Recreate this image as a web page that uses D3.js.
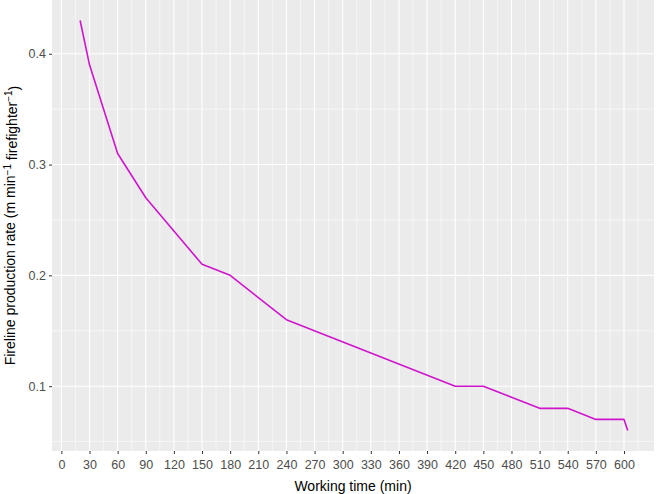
<!DOCTYPE html>
<html>
<head>
<meta charset="utf-8">
<script src="https://cdn.jsdelivr.net/npm/d3@7"></script>
<style>
  html, body { margin: 0; padding: 0; background: #fff; }
  svg { display: block; font-family: "Liberation Sans", Arial, Helvetica, sans-serif; }
</style>
</head>
<body>
<svg id="chart" width="656" height="494"></svg>
<script>
// Data
const workingTime = [20, 30, 60, 90, 150, 180, 240, 420, 450, 510, 540, 570, 600, 604];
const productionRate = [0.43, 0.39, 0.31, 0.27, 0.21, 0.20, 0.16, 0.10, 0.10, 0.08, 0.08, 0.07, 0.07, 0.06];
const xTicks = [0, 30, 60, 90, 120, 150, 180, 210, 240, 270, 300, 330, 360, 390, 420, 450, 480, 510, 540, 570, 600];
const yTicks = [0.1, 0.2, 0.3, 0.4];
const xMinor = [15, 45, 75, 105, 135, 165, 195, 225, 255, 285, 315, 345, 375, 405, 435, 465, 495, 525, 555, 585, 615];
const yMinor = [0.05, 0.15, 0.25, 0.35];

const svg = d3.select("#chart");
const panel = { left: 52, right: 654, top: 0, bottom: 451 };

const x = d3.scaleLinear().domain([-10, 632]).range([panel.left, panel.right]);
const y = d3.scaleLinear().domain([0.0415, 0.4485]).range([panel.bottom, panel.top]);

// panel background
svg.append("rect")
  .attr("x", panel.left).attr("y", panel.top)
  .attr("width", panel.right - panel.left).attr("height", panel.bottom - panel.top)
  .attr("fill", "#EBEBEB");

const grid = svg.append("g");
// minor grid
grid.selectAll(".xminor").data(xMinor).join("line")
  .attr("x1", d => x(d)).attr("x2", d => x(d))
  .attr("y1", panel.top).attr("y2", panel.bottom)
  .attr("stroke", "#fff").attr("stroke-width", 0.55);
grid.selectAll(".yminor").data(yMinor).join("line")
  .attr("class", "yminor")
  .attr("x1", panel.left).attr("x2", panel.right)
  .attr("y1", d => y(d)).attr("y2", d => y(d))
  .attr("stroke", "#fff").attr("stroke-width", 0.55);
// major grid
grid.selectAll(".xmajor").data(xTicks).join("line")
  .attr("class", "xmajor")
  .attr("x1", d => x(d)).attr("x2", d => x(d))
  .attr("y1", panel.top).attr("y2", panel.bottom)
  .attr("stroke", "#fff").attr("stroke-width", 1.1);
grid.selectAll(".ymajor").data(yTicks).join("line")
  .attr("class", "ymajor")
  .attr("x1", panel.left).attr("x2", panel.right)
  .attr("y1", d => y(d)).attr("y2", d => y(d))
  .attr("stroke", "#fff").attr("stroke-width", 1.1);

// axes
const xAxis = d3.axisBottom(x).tickValues(xTicks).tickSize(3).tickPadding(3).tickFormat(d3.format("d"));
const yAxis = d3.axisLeft(y).tickValues(yTicks).tickSize(3).tickPadding(3).tickFormat(d3.format(".1f"));

const gx = svg.append("g").attr("transform", `translate(0,${panel.bottom})`).call(xAxis);
const gy = svg.append("g").attr("transform", `translate(${panel.left},0)`).call(yAxis);
[gx, gy].forEach(g => {
  g.select(".domain").remove();
  g.selectAll(".tick line").attr("stroke", "#333333").attr("stroke-width", 1);
  g.selectAll(".tick text").attr("fill", "#4D4D4D").attr("font-size", "12.5px")
    .attr("font-family", "Liberation Sans, Arial, sans-serif");
});
gx.selectAll(".tick text").attr("dy", "0.95em");

// line
const line = d3.line().x((d, i) => x(workingTime[i])).y(d => y(d));
svg.append("path")
  .datum(productionRate)
  .attr("d", line)
  .attr("fill", "none")
  .attr("stroke", "#CF15CC")
  .attr("stroke-width", 1.6)
  .attr("stroke-linejoin", "round");

// axis titles
svg.append("text")
  .attr("x", (panel.left + panel.right) / 2).attr("y", 491)
  .attr("text-anchor", "middle").attr("font-size", "14px").attr("fill", "#000")
  .text("Working time (min)");

const yt = svg.append("text")
  .attr("transform", `translate(15,${(panel.top + panel.bottom) / 2}) rotate(-90)`)
  .attr("text-anchor", "middle").attr("font-size", "14px").attr("fill", "#000");
yt.append("tspan").text("Fireline production rate (m min");
yt.append("tspan").attr("dy", "-0.45em").attr("font-size", "10px").text("\u22121");
yt.append("tspan").attr("dy", "0.45em").text(" firefighter");
yt.append("tspan").attr("dy", "-0.45em").attr("font-size", "10px").text("\u22121");
yt.append("tspan").attr("dy", "0.45em").text(")");
</script>
</body>
</html>
